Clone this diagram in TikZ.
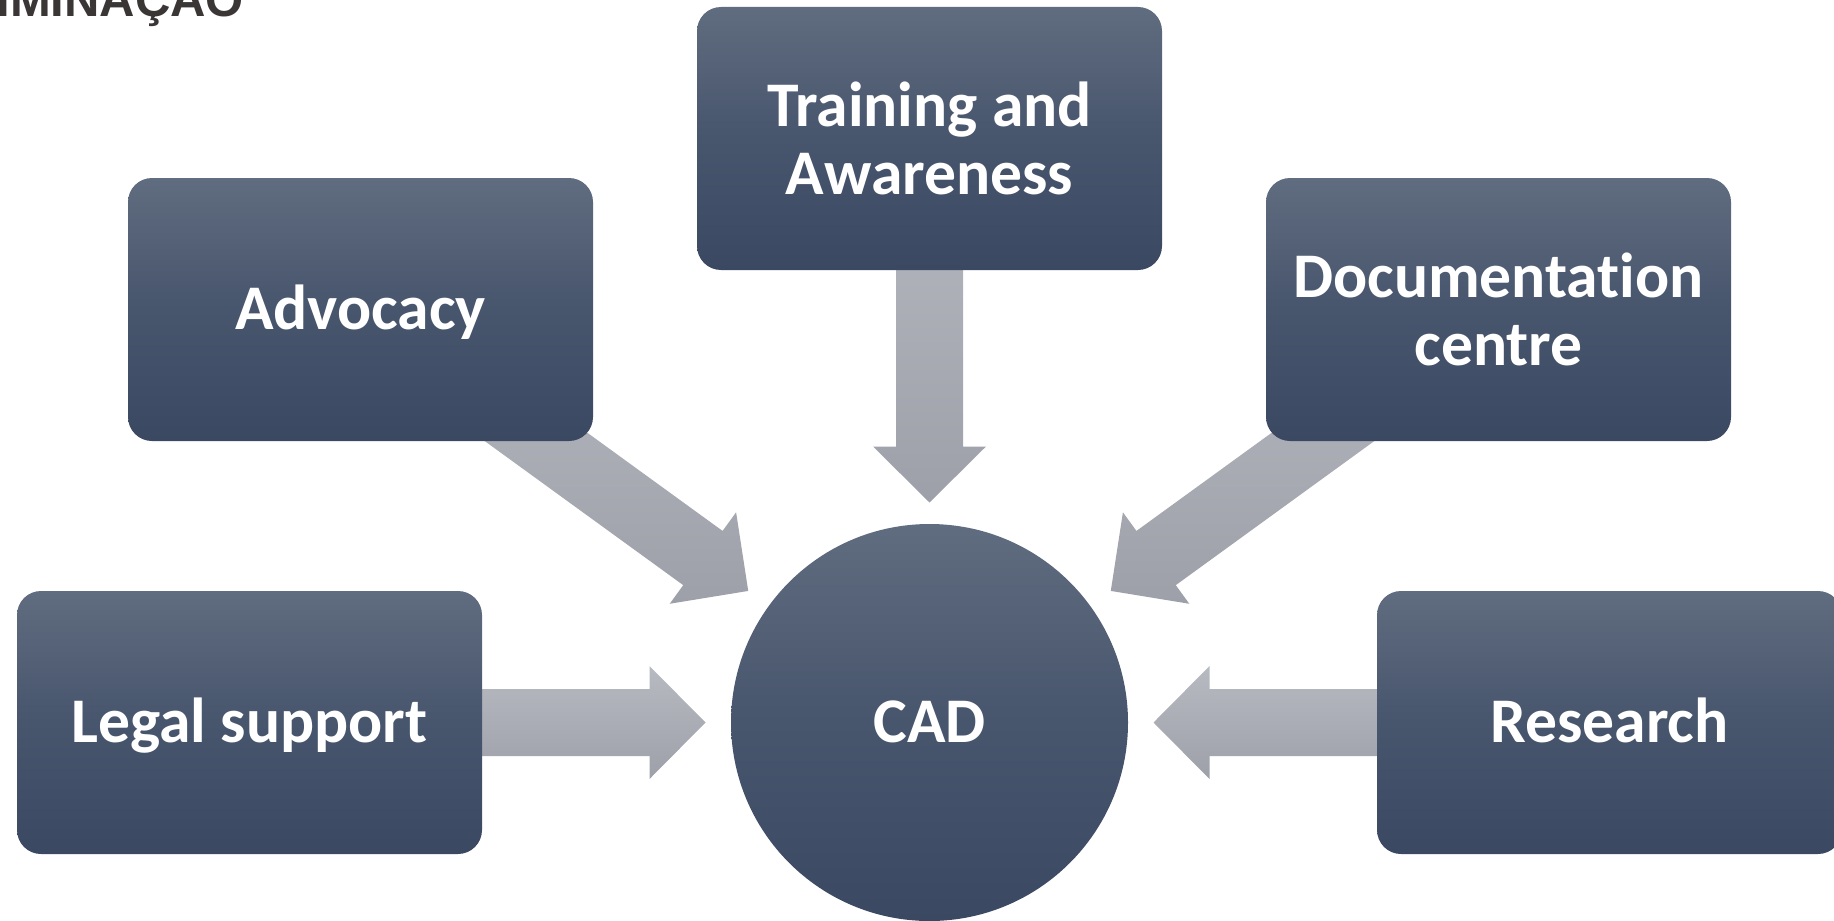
\documentclass[tikz,border=0pt]{standalone}
\usepackage{fontspec}
\setmainfont{Carlito}[Ligatures=NoCommon]
\newfontfamily\capfont{Liberation Sans}
\usetikzlibrary{calc}
\definecolor{boxtop}{HTML}{606C7F}
\definecolor{boxmid}{HTML}{47556D}
\definecolor{boxbot}{HTML}{3A4862}
\definecolor{arrtop}{HTML}{B7BAC1}
\definecolor{arrbot}{HTML}{9DA0A8}
\definecolor{captext}{HTML}{3A3636}
\tikzset{
  box/.style={rectangle, rounded corners=12pt, minimum width=232.5pt, minimum height=131.5pt,
    top color=boxtop, bottom color=boxbot, middle color=boxmid, draw=none,
    text=white, font=\bfseries\fontsize{31.8pt}{34.3pt}\selectfont, align=center, inner sep=0pt},
  oneline/.style={text height=20.3pt, text depth=0pt},
  hub/.style={circle, minimum size=198.5pt, inner sep=0pt,
    top color=boxtop, bottom color=boxbot, middle color=boxmid, draw=none,
    text=white, font=\bfseries\fontsize{31.8pt}{34.3pt}\selectfont},
  arrowshade/.style={top color=arrtop, bottom color=arrbot, draw=none}
}
\newcommand\blockarrow[2]{%
  \coordinate (ba-b) at ($(#2)!28pt!(#1)$);
  \path[arrowshade] ($(#1)!16.75pt!90:(#2)$) -- ($(ba-b)!16.75pt!90:(#2)$)
    -- ($(ba-b)!28.25pt!90:(#2)$) -- (#2) -- ($(ba-b)!28.25pt!-90:(#2)$)
    -- ($(ba-b)!16.75pt!-90:(#2)$) -- ($(#1)!16.75pt!-90:(#2)$) -- cycle;}
\begin{document}
\begin{tikzpicture}[x=0.5pt,y=-0.5pt]
\useasboundingbox (0,0) rectangle (1834,920);
\clip (0,0) rectangle (1834,920);
% anchor coordinates
\coordinate (cadc) at (929.5,722.5);
\coordinate (trc) at (929.5,138.5);
\coordinate (adc) at (360.5,309.5);
\coordinate (doc) at (1498.5,309.5);
\coordinate (lec) at (249.5,722.5);
\coordinate (rec) at (1609.5,722.5);
% arrow tips
\coordinate (tipT) at ($(cadc)!110pt!(trc)$);
\coordinate (tipA) at ($(cadc)!112pt!(adc)$);
\coordinate (tipD) at ($(cadc)!112pt!(doc)$);
\coordinate (tipL) at ($(cadc)!112pt!(lec)$);
\coordinate (tipR) at ($(cadc)!112pt!(rec)$);
% block arrows
\blockarrow{trc}{tipT}
\blockarrow{adc}{tipA}
\blockarrow{doc}{tipD}
\blockarrow{lec}{tipL}
\blockarrow{rec}{tipR}
% boxes
\node[box] (training) at (trc) {Training and\\Awareness};
\node[box, oneline] (advocacy) at (adc) {Advocacy};
\node[box] (documentation) at (doc) {Documentation\\centre};
\node[box, oneline] (legal) at (lec) {Legal support};
\node[box, oneline] (research) at (rec) {Research};
\node[hub, text height=20.3pt, text depth=0pt] (cad) at (cadc) {CAD};
% cropped heading fragment
\node[anchor=base west, inner sep=0pt, text=captext,
  font=\capfont\bfseries\fontsize{24.5pt}{30pt}\selectfont] (cut) at (-4,17) {IMINAÇÃO};
\end{tikzpicture}
\end{document}
